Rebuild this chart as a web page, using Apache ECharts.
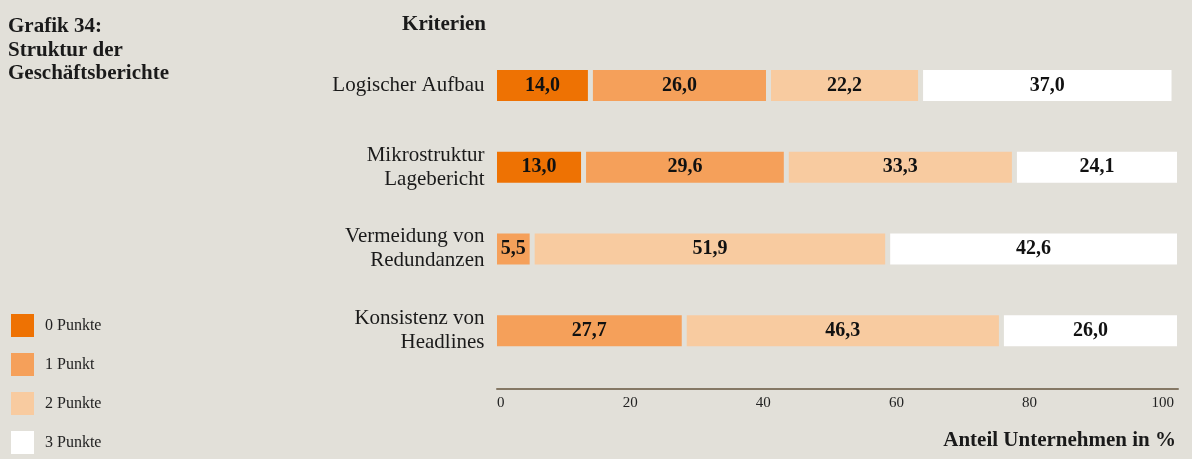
<!DOCTYPE html>
<html>
<head>
<meta charset="utf-8">
<script src="https://cdn.jsdelivr.net/npm/echarts@6/dist/echarts.min.js"></script>
<style>
  html, body { margin: 0; padding: 0; background: #e2e0d9; }
  #chart { width: 1192px; height: 459px; }
</style>
</head>
<body>
<div id="chart"></div>
<script>
;(function () {
  // Kriterien (von oben nach unten)
  var kriterien = ['Logischer Aufbau', 'Mikrostruktur\nLagebericht', 'Vermeidung von\nRedundanzen', 'Konsistenz von\nHeadlines'];
  var punkte = ['0 Punkte', '1 Punkt', '2 Punkte', '3 Punkte'];
  // Anteil Unternehmen in %
  var punkte0 = [14.0, 13.0, null, null];
  var punkte1 = [26.0, 29.6, 5.5, 27.7];
  var punkte2 = [22.2, 33.3, 51.9, 46.3];
  var punkte3 = [37.0, 24.1, 42.6, 26.0];
  var achsenTicks = [0, 20, 40, 60, 80, 100];

  var bg = '#e2e0d9';
  var farben = ['#ee7203', '#f5a05a', '#f8cba0', '#ffffff'];
  var serif = 'Liberation Serif';

  var myChart = echarts.init(document.getElementById('chart'));

  function segment(name, data, color) {
    return {
      name: name,
      type: 'bar',
      stack: 'gesamt',
      xAxisIndex: 0,
      yAxisIndex: 0,
      barWidth: 36,
      data: data,
      itemStyle: { color: color, borderColor: bg, borderWidth: 2.5 },
      label: {
        show: true,
        position: 'inside',
        fontFamily: serif,
        fontWeight: 'bold',
        fontSize: 20,
        color: '#111',
        formatter: function (p) { return p.value.toFixed(1).replace('.', ','); }
      },
      emphasis: { disabled: true }
    };
  }

  var option = {
    backgroundColor: bg,
    animation: false,
    title: [
      {
        text: 'Grafik 34:\nStruktur der\nGeschäftsberichte',
        left: 8, top: 15, padding: 0,
        textStyle: { fontFamily: serif, fontWeight: 'bold', fontSize: 21, lineHeight: 23.5, color: '#1a1a1a' }
      },
      {
        text: 'Kriterien',
        right: 706, top: 13, padding: 0,
        textStyle: { fontFamily: serif, fontWeight: 'bold', fontSize: 21, lineHeight: 24, color: '#1a1a1a' }
      },
      {
        text: 'Anteil Unternehmen in %',
        right: 16, top: 429, padding: 0,
        textStyle: { fontFamily: serif, fontWeight: 'bold', fontSize: 21, lineHeight: 24, color: '#1a1a1a' }
      }
    ],
    legend: {
      orient: 'vertical',
      left: 11, top: 314, padding: 0,
      itemWidth: 23, itemHeight: 23, itemGap: 16,
      icon: 'rect',
      selectedMode: false,
      data: punkte,
      itemStyle: { borderWidth: 0 },
      textStyle: { fontFamily: serif, fontSize: 16, color: '#222', padding: [0, 0, 0, 6] }
    },
    grid: [
      { left: 494.5, right: 12.5, top: 44.5, height: 327 },
      { left: 497, right: 14, top: 44.5, bottom: 70 }
    ],
    xAxis: [
      { gridIndex: 0, type: 'value', min: 0, max: 100, show: false },
      {
        gridIndex: 1, type: 'value', min: 0, max: 102.3, interval: 20,
        axisLine: { show: true, lineStyle: { color: '#857865', width: 2 } },
        axisTick: { show: false },
        splitLine: { show: false },
        axisLabel: {
          fontFamily: serif, fontSize: 15, color: '#222', margin: 7,
          showMaxLabel: false, alignMinLabel: 'left',
          formatter: function (v) { return achsenTicks.indexOf(v) >= 0 ? String(v) : ''; }
        }
      }
    ],
    yAxis: [
      {
        gridIndex: 0, type: 'category', inverse: true, data: kriterien,
        axisLine: { show: false }, axisTick: { show: false },
        axisLabel: { fontFamily: serif, fontSize: 21, lineHeight: 24, color: '#1a1a1a', margin: 10, align: 'right' }
      },
      { gridIndex: 1, type: 'value', show: false }
    ],
    series: [
      segment(punkte[0], punkte0, farben[0]),
      segment(punkte[1], punkte1, farben[1]),
      segment(punkte[2], punkte2, farben[2]),
      segment(punkte[3], punkte3, farben[3])
    ]
  };

  myChart.setOption(option);
})();
</script>
</body>
</html>
